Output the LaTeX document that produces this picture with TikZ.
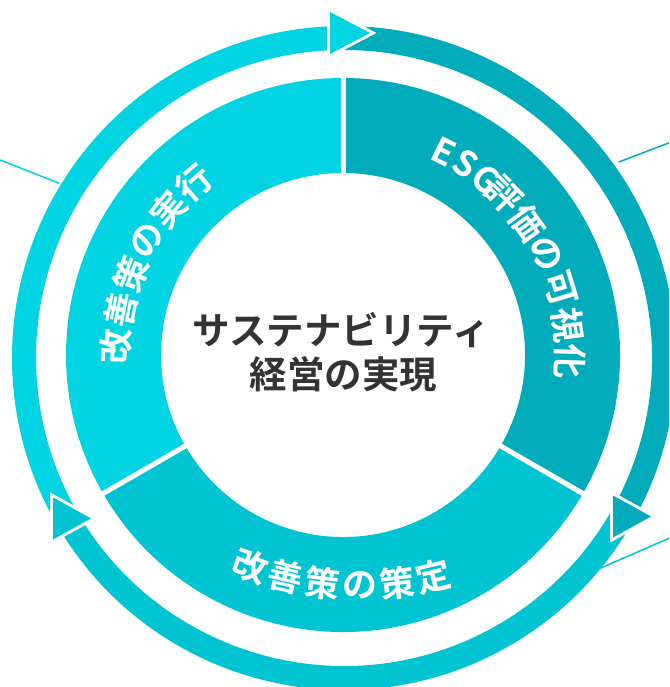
\documentclass[tikz,border=0pt]{standalone}
\usepackage{fontspec}
\newfontfamily\jpb{Noto Sans CJK JP Bold}
\definecolor{cA}{HTML}{00D3E1}
\definecolor{cB}{HTML}{00ACBA}
\definecolor{cC}{HTML}{00C4D2}
\definecolor{ink}{HTML}{333333}
\begin{document}
\begin{tikzpicture}[x=1pt,y=1pt,
  seg/.style={line width=95pt},
  ringarc/.style={line width=24pt},
  divider/.style={white, line width=5pt},
  lbl/.style={font=\jpb\fontsize{35}{35}\selectfont, text=white, inner sep=0pt},
  ctr/.style={font=\jpb\fontsize{37.5}{37.5}\selectfont, text=ink, inner sep=0pt},
  halo/.style={fill=white, draw=white, line width=6pt, line join=miter},
  leader/.style={line width=1.5pt}
]
\useasboundingbox (0,0) rectangle (669,687);
\clip (0,0) rectangle (669,687);
\fill[white] (0,0) rectangle (669,687);
\coordinate (DC) at (343,332);
\coordinate (RC) at (344,329);
\coordinate (BC) at (358.6,414.5);
% leader lines
\coordinate (ul1) at (0,527);
\coordinate (ul2) at (59.3,503.7);
\coordinate (ur1) at (618.6,524.9);
\coordinate (ur2) at (669,544.1);
\coordinate (lr1) at (600,118.7);
\coordinate (lr2) at (669,148.7);
\draw[leader, cA] (ul1) -- (ul2);
\draw[leader, cB] (ur1) -- (ur2);
\draw[leader, cC] (lr1) -- (lr2);
% donut segments
\draw[seg, cA] ([shift={(90:229.5)}]DC) arc[start angle=90, end angle=210, radius=229.5];
\draw[seg, cC] ([shift={(210:229.5)}]DC) arc[start angle=210, end angle=330, radius=229.5];
\draw[seg, cB] ([shift={(-30:229.5)}]DC) arc[start angle=-30, end angle=90, radius=229.5];
\foreach \a in {90,210,330}
  \draw[divider] ([shift={(\a:178)}]DC) -- ([shift={(\a:281)}]DC);
% outer ring
\draw[ringarc, cA] ([shift={(90:320)}]RC) arc[start angle=90, end angle=210, radius=320];
\draw[ringarc, cC] ([shift={(210:320)}]RC) arc[start angle=210, end angle=330, radius=320];
\draw[ringarc, cB] ([shift={(-30:320)}]RC) arc[start angle=-30, end angle=90, radius=320];
% arrowheads
\coordinate (t1a) at (330,675); \coordinate (t1b) at (330,633); \coordinate (t1c) at (370,654);
\coordinate (t2a) at (613,191.5); \coordinate (t2b) at (613,149.5); \coordinate (t2c) at (651,170.5);
\coordinate (t3a) at (53,189.5); \coordinate (t3b) at (53,147.5); \coordinate (t3c) at (91,168.5);
\filldraw[halo] (t1a) -- (t1c) -- (t1b) -- cycle;
\fill[cA] (t1a) -- (t1c) -- (t1b) -- cycle;
\filldraw[halo] (t2a) -- (t2c) -- (t2b) -- cycle;
\fill[cB] (t2a) -- (t2c) -- (t2b) -- cycle;
\filldraw[halo] (t3a) -- (t3c) -- (t3b) -- cycle;
\fill[cC] (t3a) -- (t3c) -- (t3b) -- cycle;
% labels
\foreach \a/\c [count=\i] in {177.9/改,168.5/善,159.1/策,149.7/の,140.3/実,130.9/行}
  \node[lbl, rotate=\a-90] (L\i) at ([shift={(\a:227)}]DC) {\c};
\foreach \a/\c [count=\i] in {63.7/E,57.3/S,50.7/G,44.8/評,35.6/価,26.4/の,17.0/可,7.6/視,-1.7/化}
  \node[lbl, rotate=\a-90] (R\i) at ([shift={(\a:227)}]DC) {\c};
\foreach \a/\c [count=\i] in {249.8/改,256.6/善,263.4/策,270.2/の,277.0/策,283.8/定}
  \node[lbl, rotate=\a+90] (B\i) at ([shift={(\a:313)}]BC) {\c};
% centre
\node[ctr] (c1) at (341,357) {サステナビリティ};
\node[ctr] (c2) at (343.5,313) {経営の実現};
\end{tikzpicture}
\end{document}
